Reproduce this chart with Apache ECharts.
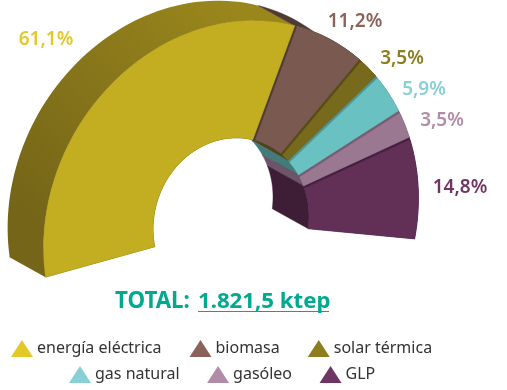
<!DOCTYPE html>
<html>
<head>
<meta charset="utf-8">
<style>
  html, body { margin: 0; padding: 0; background: #fff; }
  #chart { width: 507px; height: 390px; }
</style>
<script src="https://cdn.jsdelivr.net/npm/echarts@6/dist/echarts.min.js"></script>
</head>
<body>
<div id="chart"></div>
<script>
// data
const categories = ['energía eléctrica', 'biomasa', 'solar térmica', 'gas natural', 'gasóleo', 'GLP'];
const shares = [61.1, 11.2, 3.5, 5.9, 3.5, 14.8];
const shareLabels = ['61,1%', '11,2%', '3,5%', '5,9%', '3,5%', '14,8%'];

// colours
const keyColors = ['#e3c928', '#8a6259', '#8c7d1e', '#88d0d6', '#b08ca8', '#6f3563'];
const faceColors = ['#c3ad20', '#7a5950', '#786a1c', '#69c1c2', '#9b7891', '#622f57'];
const edgeColors = ['#8a7a1a', '#4f3a35', '#564b15', '#4f9496', '#785c71', '#45203f'];
const innerColors = ['#6b5e14', '#40302c', '#4f4512', '#437a7a', '#6d5468', '#3e1d36'];

// where each percentage sits
const labelSpots = [[46, 40], [355, 22], [402, 59], [424, 90], [442, 121], [460, 188]];

// the tilted half disc: ellipse axes for outer and inner rim, and the depth of the extrusion
const center = [231, 223];
const outerU = [187, -12], outerV = [12, -202];
const innerU = [78, -6], innerV = [0, -85];
const depth = [-36, -20];
const startDeg = 192.1, sweepDeg = 200;

const total = shares.reduce((a, b) => a + b, 0);
const edges = [0];
shares.forEach((v, i) => edges.push(edges[i] + v / total));

// share fraction -> ellipse angle, with a small correction for the perspective
function angleAt(f) {
    const bend = f < 0.852 ? 0.022 * Math.sqrt(Math.sin(Math.PI * f / 0.852)) : 0;
    return startDeg - sweepDeg * (f - bend);
}

function rim(U, V, deg) {
    const a = deg * Math.PI / 180;
    return [
        center[0] + U[0] * Math.cos(a) + V[0] * Math.sin(a),
        center[1] + U[1] * Math.cos(a) + V[1] * Math.sin(a)
    ];
}

function back(p) {
    return [p[0] + depth[0], p[1] + depth[1]];
}

function arc(U, V, from, to, step) {
    const n = Math.max(1, Math.ceil(Math.abs(from - to) / step));
    const pts = [];
    for (let i = 0; i <= n; i++) pts.push(rim(U, V, from + (to - from) * i / n));
    return pts;
}

function poly(points, color, z2) {
    return {
        type: 'polygon',
        z2: z2,
        shape: { points: points },
        style: { fill: color, stroke: typeof color === 'string' ? color : null, lineWidth: 0.4 }
    };
}

// the big outer wall gets lighter towards the top
const wallShade = {
    type: 'linear',
    global: true,
    x: 20, y: 210, x2: 235, y2: 0,
    colorStops: [{ offset: 0, color: '#746518' }, { offset: 1, color: '#9a871c' }]
};

function renderSlice(i) {
    const from = angleAt(edges[i]), to = angleAt(edges[i + 1]);
    const children = [];

    // wall on the start edge
    const a = rim(outerU, outerV, from), b = rim(innerU, innerV, from);
    children.push(poly([a, b, back(b), back(a)], edgeColors[i], 1));

    // inner wall
    const inner = arc(innerU, innerV, from, to, 3);
    children.push(poly(inner.concat(inner.map(back).reverse()), innerColors[i], 2));

    // outer wall
    const outer = arc(outerU, outerV, from, to, 2);
    children.push(poly(outer.concat(outer.map(back).reverse()), i === 0 ? wallShade : edgeColors[i], 3));

    // dark wedge under the face, it shows as the thin strip along the start edge
    const wedge = outer.concat(inner.slice().reverse());
    children.push(poly(wedge, edgeColors[i], 4));

    // front face, start edge pulled back a little
    const gapOuter = i === 0 ? 0 : 0.8, gapInner = i === 0 ? 0 : 1.8;
    const face = arc(outerU, outerV, from - gapOuter, to, 2)
        .concat(arc(innerU, innerV, to, from - gapInner, 2));
    children.push(poly(face, faceColors[i], 5));

    children.push({
        type: 'text',
        z2: 6,
        x: labelSpots[i][0],
        y: labelSpots[i][1],
        style: {
            text: shareLabels[i],
            fill: keyColors[i],
            font: '600 19px "Noto Sans"',
            align: 'center',
            verticalAlign: 'middle'
        }
    });

    return { type: 'group', children: children };
}

const legendBase = {
    orient: 'horizontal',
    icon: 'triangle',
    padding: 0,
    itemWidth: 22,
    itemHeight: 17,
    selectedMode: false,
    textStyle: { fontFamily: 'Noto Sans', fontSize: 16, color: '#333333', padding: [0, 0, 0, -1] }
};

const chart = echarts.init(document.getElementById('chart'), null, { renderer: 'canvas' });

chart.setOption({
    animation: false,
    backgroundColor: '#ffffff',
    color: keyColors,
    legend: [
        Object.assign({}, legendBase, { left: 11, top: 340, itemGap: 28, data: categories.slice(0, 3) }),
        Object.assign({}, legendBase, { left: 69, top: 366, itemGap: 27.5, data: categories.slice(3) })
    ],
    graphic: [
        {
            type: 'text',
            x: 115,
            y: 302,
            style: {
                text: 'TOTAL:',
                fill: '#00a98f',
                font: '700 22.3px "Noto Sans"',
                verticalAlign: 'middle'
            }
        },
        {
            type: 'text',
            x: 198,
            y: 302,
            style: {
                text: '1.821,5 ktep',
                fill: '#00a98f',
                font: '700 22.2px "Noto Sans"',
                verticalAlign: 'middle'
            }
        },
        {
            type: 'line',
            shape: { x1: 198, y1: 311.5, x2: 329, y2: 311.5 },
            style: { stroke: '#00a98f', lineWidth: 1 }
        }
    ],
    series: categories.map((name, i) => ({
        name: name,
        type: 'custom',
        coordinateSystem: 'none',
        silent: true,
        data: [shares[i]],
        renderItem: () => renderSlice(i)
    }))
});
</script>
</body>
</html>
